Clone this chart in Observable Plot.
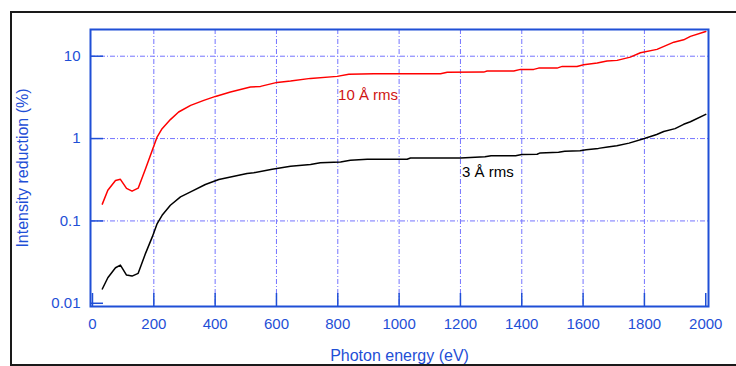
<!DOCTYPE html>
<html>
<head>
<meta charset="utf-8">
<script src="https://cdn.jsdelivr.net/npm/d3@7"></script>
<script src="https://cdn.jsdelivr.net/npm/@observablehq/plot@0.6"></script>
<style>
  html, body { margin: 0; padding: 0; background: #fff; overflow: hidden; }
  #outer { position: absolute; left: 10px; top: 11px; width: 900px; height: 355px; box-sizing: border-box; border: 2px solid #1a1a1a; }
  #chart { position: absolute; left: 0; top: 0; }
</style>
</head>
<body>
<div id="outer"></div>
<div id="chart"></div>
<script>
// 10 Å rms series
const redEnergy = [32, 50, 75, 91, 111, 129, 149, 173, 195, 211, 227, 254, 281, 320, 363, 401, 450, 515, 548, 602, 646, 711, 798, 836, 917, 1135, 1157, 1276, 1287, 1374, 1396, 1439, 1455, 1515, 1532, 1580, 1602, 1646, 1678, 1711, 1754, 1787, 1841, 1896, 1928, 1950, 2000];
const redValue = [0.16, 0.236, 0.31, 0.32, 0.248, 0.23, 0.25, 0.43, 0.72, 1.05, 1.32, 1.7, 2.1, 2.53, 2.91, 3.25, 3.67, 4.22, 4.3, 4.81, 4.99, 5.38, 5.69, 6.02, 6.14, 6.14, 6.38, 6.41, 6.6, 6.6, 6.92, 6.92, 7.17, 7.17, 7.52, 7.52, 7.88, 8.25, 8.72, 8.9, 9.75, 11.0, 12.1, 14.8, 15.8, 17.4, 20.0];
// 3 Å rms series
const blackEnergy = [32, 50, 75, 91, 111, 129, 149, 173, 195, 211, 227, 254, 287, 320, 368, 412, 504, 526, 586, 646, 711, 743, 809, 841, 896, 1026, 1037, 1200, 1280, 1300, 1380, 1400, 1450, 1460, 1520, 1540, 1590, 1610, 1650, 1680, 1710, 1750, 1800, 1840, 1863, 1900, 1928, 1950, 2000];
const blackValue = [0.0149, 0.0204, 0.027, 0.0291, 0.022, 0.0214, 0.0231, 0.0404, 0.064, 0.093, 0.117, 0.155, 0.196, 0.225, 0.277, 0.318, 0.377, 0.385, 0.425, 0.462, 0.484, 0.507, 0.521, 0.546, 0.561, 0.561, 0.582, 0.582, 0.60, 0.62, 0.62, 0.64, 0.645, 0.67, 0.68, 0.70, 0.71, 0.73, 0.76, 0.79, 0.82, 0.88, 1.0, 1.12, 1.22, 1.32, 1.49, 1.6, 1.97];
// annotations
const labelText = ["10 Å rms", "3 Å rms"];
const labelEnergy = [801, 1205];
const labelValue = [2.97, 0.34];
const labelColor = ["#d01414", "#000000"];
// ticks
const xTicks = [0, 200, 400, 600, 800, 1000, 1200, 1400, 1600, 1800, 2000];
const xGrid = [200, 400, 600, 800, 1000, 1200, 1400, 1600, 1800];
const yTicks = [10, 1, 0.1, 0.01];
const yGrid = [10, 1, 0.1];

const red = redEnergy.map((e, i) => ({e, v: redValue[i]}));
const black = blackEnergy.map((e, i) => ({e, v: blackValue[i]}));
const labels = labelText.map((t, i) => ({t, e: labelEnergy[i], v: labelValue[i], c: labelColor[i]}));

const blue = "#1f4fd6";
const gridColor = "#7474ff";

const chart = Plot.plot({
  width: 736,
  height: 366,
  marginLeft: 90,
  marginRight: 28,
  marginTop: 29,
  marginBottom: 60,
  style: {fontFamily: "'Liberation Sans', Arial, sans-serif", fontSize: "15px", background: "transparent"},
  x: {domain: [-6.5, 2009]},
  y: {type: "log", domain: [0.00914, 21.1]},
  marks: [
    Plot.gridX(xGrid, {stroke: gridColor, strokeOpacity: 1, strokeWidth: 1, strokeDasharray: "5,2,1,2"}),
    Plot.gridY(yGrid, {stroke: gridColor, strokeOpacity: 1, strokeWidth: 1, strokeDasharray: "5,2,1,2"}),
    Plot.axisX({ticks: xTicks, tickSize: -13, tickPadding: 25, stroke: blue, fill: blue, strokeWidth: 1.5, tickFormat: d => String(d), label: null, fontSize: 15}),
    Plot.axisY({ticks: yTicks, tickSize: -13, tickPadding: 23, stroke: blue, fill: blue, strokeWidth: 1.5, tickFormat: d => String(d), label: null, fontSize: 15}),
    Plot.line(red, {x: "e", y: "v", stroke: "#ff0000", strokeWidth: 1.5}),
    Plot.line(black, {x: "e", y: "v", stroke: "#000000", strokeWidth: 1.5}),
    Plot.text(labels, {x: "e", y: "v", text: "t", fill: "c", textAnchor: "start", lineAnchor: "bottom", fontSize: 15}),
    Plot.text(["Photon energy (eV)"], {frameAnchor: "bottom", dy: 54, lineAnchor: "bottom", fill: blue, fontSize: 16}),
    Plot.text(["Intensity reduction (%)"], {frameAnchor: "left", dx: -68, rotate: -90, textAnchor: "middle", fill: blue, fontSize: 16}),
    Plot.frame({stroke: blue, strokeWidth: 2})
  ]
});
document.getElementById("chart").appendChild(chart);
</script>
</body>
</html>
